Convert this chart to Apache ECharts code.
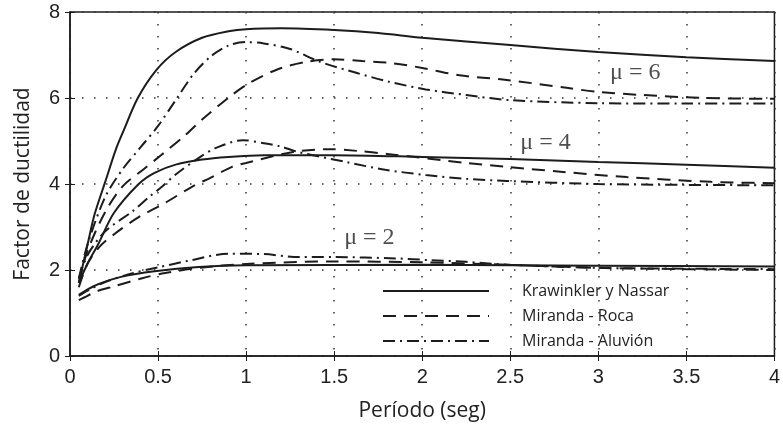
<!DOCTYPE html>
<html>
<head>
<meta charset="utf-8">
<script src="https://cdn.jsdelivr.net/npm/echarts@6/dist/echarts.min.js"></script>
<style>
  html, body { margin: 0; padding: 0; background: #fff; }
  #chart { width: 783px; height: 429px; }
</style>
</head>
<body>
<div id="chart"></div>
<script>
// curvas: [periodo, factor]
var knMu6 = [[0.05,1.7],[0.1,2.6],[0.14,3.3],[0.2,4.05],[0.26,4.8],[0.3,5.2],[0.385,6.0],[0.49,6.65],[0.6,7.07],[0.75,7.4],[0.9,7.55],[1.0,7.6],[1.2,7.62],[1.5,7.58],[1.75,7.51],[2.0,7.4],[2.5,7.23],[3.0,7.07],[3.5,6.95],[4.0,6.86]]
var knMu4 = [[0.05,1.7],[0.1,2.15],[0.16,2.6],[0.25,3.33],[0.39,4.0],[0.48,4.26],[0.6,4.45],[0.75,4.57],[0.9,4.63],[1.1,4.67],[1.5,4.67],[2.0,4.63],[2.5,4.58],[3.0,4.51],[3.5,4.45],[4.0,4.38]]
var knMu2 = [[0.05,1.42],[0.1,1.55],[0.16,1.67],[0.29,1.84],[0.48,1.97],[0.73,2.07],[1.0,2.11],[2.0,2.12],[3.0,2.1],[4.0,2.08]]
var rocaMu6 = [[0.05,1.7],[0.1,2.45],[0.2,3.35],[0.3,3.95],[0.42,4.35],[0.52,4.68],[0.65,5.12],[0.75,5.5],[0.92,6.07],[1.02,6.35],[1.18,6.67],[1.34,6.84],[1.5,6.9],[1.66,6.86],[1.83,6.81],[2.0,6.7],[2.21,6.53],[2.48,6.42],[2.83,6.23],[3.0,6.14],[3.25,6.07],[3.6,6.0],[4.0,5.98]]
var rocaMu4 = [[0.05,1.6],[0.1,2.15],[0.17,2.55],[0.26,2.86],[0.39,3.23],[0.54,3.56],[0.69,3.93],[0.8,4.15],[0.92,4.4],[1.0,4.49],[1.26,4.74],[1.47,4.81],[1.63,4.77],[1.8,4.7],[2.25,4.49],[2.48,4.4],[2.8,4.28],[3.16,4.16],[3.64,4.05],[4.0,4.02]]
var rocaMu2 = [[0.05,1.3],[0.08,1.36],[0.15,1.5],[0.25,1.62],[0.41,1.81],[0.54,1.93],[0.74,2.05],[1.0,2.14],[1.5,2.2],[2.0,2.18],[2.5,2.12],[3.0,2.05],[3.5,2.02],[4.0,2.0]]
var aluvMu6 = [[0.05,1.8],[0.1,2.6],[0.2,3.7],[0.3,4.35],[0.4,4.85],[0.5,5.35],[0.6,5.95],[0.7,6.55],[0.8,6.97],[0.9,7.22],[1.0,7.3],[1.1,7.27],[1.25,7.14],[1.42,6.84],[1.63,6.58],[1.81,6.38],[2.02,6.2],[2.25,6.07],[2.5,5.95],[3.0,5.88],[3.5,5.87],[4.0,5.87]]
var aluvMu4 = [[0.05,1.8],[0.1,2.35],[0.2,2.9],[0.35,3.35],[0.45,3.7],[0.52,3.93],[0.6,4.22],[0.74,4.63],[0.83,4.84],[0.98,5.02],[1.1,4.95],[1.19,4.88],[1.3,4.74],[1.57,4.51],[1.79,4.33],[2.02,4.21],[2.25,4.12],[2.48,4.07],[3.0,4.0],[3.5,3.98],[4.0,3.97]]
var aluvMu2 = [[0.05,1.4],[0.1,1.52],[0.2,1.72],[0.35,1.92],[0.5,2.06],[0.69,2.23],[0.9,2.38],[1.1,2.37],[1.3,2.3],[1.5,2.3],[1.85,2.27],[2.04,2.23],[2.25,2.19],[2.5,2.12],[3.0,2.05],[3.5,2.03],[4.0,2.02]]

var names = ['Krawinkler y Nassar', 'Miranda - Roca', 'Miranda - Aluvión']
// etiquetas mu en coordenadas de datos
var muLabels = [[3.21, 6.58, 'μ = 6'], [2.70, 4.95, 'μ = 4'], [1.70, 2.74, 'μ = 2']]

var ink = '#1c1c1c'
var styles = [
  { type: 'solid', width: 2 },
  { type: [13, 8], width: 2 },
  { type: [12, 5, 2, 5], width: 2 }
]

function curve (name, idx, data) {
  return {
    name: name,
    type: 'line',
    data: data,
    smooth: 0.3,
    symbol: 'none',
    silent: true,
    itemStyle: { color: ink },
    lineStyle: { color: ink, width: styles[idx].width, type: styles[idx].type }
  }
}

var series = [
  curve(names[0], 0, knMu6), curve(names[0], 0, knMu4), curve(names[0], 0, knMu2),
  curve(names[1], 1, rocaMu6), curve(names[1], 1, rocaMu4), curve(names[1], 1, rocaMu2),
  curve(names[2], 2, aluvMu6), curve(names[2], 2, aluvMu4), curve(names[2], 2, aluvMu2),
  {
    type: 'scatter',
    symbolSize: 0,
    silent: true,
    data: muLabels.map(function (m) { return { value: [m[0], m[1]], name: m[2] } }),
    label: {
      show: true,
      position: 'inside',
      formatter: '{b}',
      color: '#222',
      fontFamily: 'Liberation Serif',
      fontSize: 24
    }
  }
]

var tickStyle = { show: true, inside: true, length: 5, lineStyle: { color: ink } }
var axisFont = { color: '#222', fontSize: 20, fontFamily: 'Liberation Sans' }
var titleFont = { color: '#222', fontSize: 21, fontFamily: 'Open Sans' }
var gridDots = { show: true, lineStyle: { color: '#333', width: 1.5, type: [1.5, 10.5] } }

var myChart = echarts.init(document.getElementById('chart'))
var option = {
  animation: false,
  backgroundColor: '#fff',
  grid: {
    left: 70,
    right: 7,
    top: 12,
    bottom: 73,
    show: true,
    borderColor: ink,
    borderWidth: 1.5
  },
  legend: {
    data: names,
    orient: 'vertical',
    left: 377,
    top: 278,
    itemWidth: 106,
    itemHeight: 12,
    itemGap: 9,
    selectedMode: false,
    itemStyle: { color: 'transparent', borderWidth: 0 },
    textStyle: { color: '#222', fontSize: 16, fontFamily: 'Open Sans', padding: [0, 0, 0, 28] }
  },
  xAxis: [{
    type: 'value',
    min: 0,
    max: 4,
    interval: 0.5,
    name: 'Período (seg)',
    nameLocation: 'middle',
    nameGap: 45,
    nameTextStyle: titleFont,
    axisLine: { show: true, lineStyle: { color: ink, width: 1.5 } },
    axisTick: tickStyle,
    axisLabel: Object.assign({ margin: 11 }, axisFont),
    splitLine: gridDots
  }, {
    type: 'value',
    position: 'top',
    min: 0,
    max: 4,
    interval: 0.5,
    axisLine: { show: false },
    axisTick: tickStyle,
    axisLabel: { show: false },
    splitLine: { show: false }
  }],
  yAxis: [{
    type: 'value',
    min: 0,
    max: 8,
    interval: 2,
    name: 'Factor de ductilidad',
    nameLocation: 'middle',
    nameGap: 36,
    nameTextStyle: titleFont,
    axisLine: { show: true, lineStyle: { color: ink, width: 1.5 } },
    axisTick: tickStyle,
    axisLabel: Object.assign({ margin: 10 }, axisFont),
    splitLine: gridDots
  }, {
    type: 'value',
    position: 'right',
    min: 0,
    max: 8,
    interval: 2,
    axisLine: { show: false },
    axisTick: tickStyle,
    axisLabel: { show: false },
    splitLine: { show: false }
  }],
  series: series
}
myChart.setOption(option)
</script>
</body>
</html>
